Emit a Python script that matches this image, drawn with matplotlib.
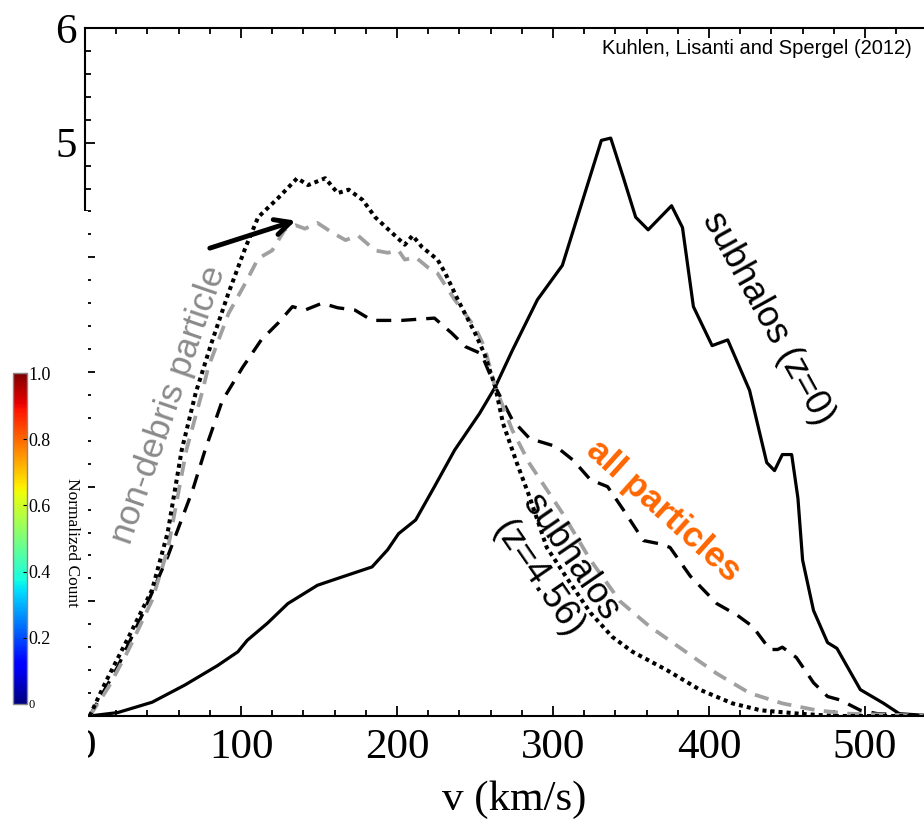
import matplotlib
matplotlib.use("Agg")
import matplotlib.pyplot as plt
import matplotlib.patches as mpatches
from matplotlib.ticker import MultipleLocator
import numpy as np

# --- data (v in km/s, relative counts) ---
solid_v = [3, 21, 43, 64, 85, 98, 104, 117, 130, 149, 162, 184, 194, 201, 212, 224,
           237, 253, 263, 274, 290, 306, 317, 331, 337, 345, 353, 361, 376, 383, 390,
           402, 412, 426, 437, 442, 447, 453, 457, 460, 467, 476, 482, 497, 512, 522, 545]
solid_y = [0, 0.03, 0.12, 0.27, 0.44, 0.56, 0.66, 0.81, 0.98, 1.14, 1.20, 1.30, 1.45,
           1.59, 1.71, 2.0, 2.32, 2.64, 2.87, 3.19, 3.63, 3.93, 4.41, 5.02, 5.04, 4.70,
           4.35, 4.24, 4.45, 4.26, 3.57, 3.23, 3.28, 2.84, 2.21, 2.14, 2.28, 2.28, 1.9,
           1.36, 0.92, 0.64, 0.59, 0.23, 0.11, 0.02, 0]

dot_v = [3, 13, 28, 43, 53, 62, 71, 81, 92, 103, 111, 124, 136, 143, 154, 162, 169,
         178, 186, 205, 210, 216, 226, 231, 239, 250, 256, 263, 268, 277, 285, 296,
         311, 324, 338, 351, 373, 394, 415, 433, 458, 480, 545]
dot_y = [0, 0.29, 0.69, 1.1, 1.6, 2.32, 2.82, 3.25, 3.69, 4.09, 4.35, 4.52, 4.69, 4.63,
         4.69, 4.56, 4.59, 4.50, 4.35, 4.11, 4.19, 4.09, 3.98, 3.86, 3.63, 3.34, 3.16,
         2.87, 2.55, 2.2, 1.91, 1.47, 1.16, 0.90, 0.69, 0.56, 0.40, 0.23, 0.11, 0.05,
         0.02, 0, 0]

gray_v = [3, 15, 28, 43, 53, 65, 75, 79, 92, 103, 111, 120, 128, 135, 141, 149, 158,
          167, 175, 186, 194, 201, 205, 212, 220, 226, 237, 250, 256, 263, 274, 285,
          306, 324, 343, 362, 383, 405, 426, 447, 469, 490, 545]
gray_y = [0, 0.25, 0.58, 1.01, 1.45, 2.32, 2.82, 3.04, 3.51, 3.78, 3.99, 4.06, 4.24,
          4.28, 4.25, 4.30, 4.22, 4.15, 4.19, 4.06, 4.04, 4.06, 3.98, 4.0, 3.91, 3.86,
          3.63, 3.39, 3.22, 2.87, 2.49, 2.2, 1.77, 1.36, 1.0, 0.78, 0.58, 0.37, 0.2,
          0.11, 0.05, 0.02, 0]

dash_v = [3, 21, 38, 53, 69, 77, 88, 101, 113, 124, 133, 141, 152, 162, 173, 184, 203,
          224, 235, 244, 254, 263, 274, 285, 302, 313, 324, 335, 345, 358, 369, 375,
          388, 405, 418, 428, 439, 444, 447, 456, 467, 476, 484, 497, 508, 545]
dash_y = [0, 0.43, 0.92, 1.39, 1.97, 2.32, 2.75, 3.04, 3.28, 3.43, 3.57, 3.54, 3.60,
          3.56, 3.54, 3.45, 3.45, 3.47, 3.34, 3.22, 3.16, 2.87, 2.58, 2.42, 2.35, 2.23,
          2.06, 2.0, 1.80, 1.53, 1.50, 1.47, 1.22, 0.98, 0.88, 0.78, 0.58, 0.58, 0.60,
          0.51, 0.29, 0.17, 0.14, 0.05, 0.02, 0]

x_ticks = [0, 100, 200, 300, 400, 500]
y_ticks = [0, 1, 2, 3, 4, 5, 6]
y_labels = ["", "", "", "", "", "5", "6"]   # lower ones are hidden in the original
cbar_ticks = [0, 0.2, 0.4, 0.6, 0.8, 1.0]
cbar_labels = ["0", "0.2", "0.4", "0.6", "0.8", "1.0"]

SERIF = "Liberation Serif"
SANS = "Liberation Sans"

W, H = 924, 822
fig = plt.figure(figsize=(W / 100, H / 100), dpi=100)

# main axes: left spine at x=85 px, top at y=28 px, bottom at y=716 px
ax = fig.add_axes([85 / W, 1 - 716 / H, 550 * 1.56 / W, (716 - 28) / H])
ax.set_xlim(0, 550)
ax.set_ylim(0, 6)

ax.plot(solid_v, solid_y, color="black", lw=2.3)
ax.plot(dash_v, dash_y, color="black", lw=2.4, linestyle=(0, (4.5, 3.0)))
ax.plot(gray_v, gray_y, color="#a0a0a0", lw=2.7, linestyle=(0, (3.8, 2.5)))
ax.plot(dot_v, dot_y, color="black", lw=2.9, linestyle=(0, (1, 1.0)))

ax.set_xticks(x_ticks)
ax.set_yticks(y_ticks)
ax.set_yticklabels(y_labels)
ax.xaxis.set_minor_locator(MultipleLocator(20))
ax.yaxis.set_minor_locator(MultipleLocator(0.2))
ax.tick_params(which="both", direction="in", top=True, right=True, width=1.3,
               labelsize=31)
ax.tick_params(which="major", length=7)
ax.tick_params(which="minor", length=4)
ax.tick_params(axis="x", pad=9)
ax.tick_params(axis="y", pad=6)
for lab in ax.get_xticklabels() + ax.get_yticklabels():
    lab.set_fontfamily(SERIF)
for sp in ax.spines.values():
    sp.set_linewidth(1.5)

# the ticks below the visible spine look faded in the original
for t in ax.yaxis.get_major_ticks():
    if t.get_loc() < 4.4:
        t.tick1line.set_color("#444444")
for t in ax.yaxis.get_minor_ticks():
    if t.get_loc() < 4.4:
        t.tick1line.set_color("#bbbbbb")

ax.set_xlabel("v (km/s)", fontsize=31, fontfamily=SERIF, labelpad=10)

# labels on the curves
ax.text(54, 2.71, "non-debris particle", rotation=71, color="#8a8a8a",
        fontsize=25.5, fontfamily=SANS, ha="center", va="center",
        rotation_mode="anchor")
ax.text(438, 3.47, "subhalos (z=0)", rotation=-61, color="black",
        fontsize=26, fontfamily=SANS, ha="center", va="center",
        rotation_mode="anchor")
ax.text(301, 1.29, "subhalos\n(z=4.56)", rotation=-55.5, color="black",
        fontsize=26, fontfamily=SANS, ha="center", va="center",
        rotation_mode="anchor", multialignment="center", linespacing=1.15)
ax.text(371, 1.79, "all particles", rotation=-42, color="#ff6600",
        fontsize=25.5, fontweight="bold", fontfamily=SANS, ha="center",
        va="center", rotation_mode="anchor")
ax.annotate("", xy=(135, 4.32), xytext=(80, 4.08),
            arrowprops=dict(arrowstyle="->", color="black", lw=3.5,
                            mutation_scale=28, shrinkA=0, shrinkB=0))

fig.text(912 / W, 1 - 48 / H, "Kuhlen, Lisanti and Spergel (2012)",
         ha="right", va="center", fontsize=14.5, fontfamily=SANS)

# white patch over the lower part of the left axis (pasted colorbar area)
cover = mpatches.Rectangle((0, 1 - 770 / H), 87.5 / W, (770 - 211) / H,
                           transform=fig.transFigure, facecolor="white",
                           edgecolor="none", zorder=5)
fig.patches.append(cover)

# colorbar
cax = fig.add_axes([13 / W, 1 - 704 / H, 14 / W, (704 - 373) / H])
cax.set_zorder(10)
sm = plt.cm.ScalarMappable(cmap="jet", norm=plt.Normalize(0, 1))
cb = fig.colorbar(sm, cax=cax, ticks=cbar_ticks)
cb.ax.set_yticklabels(cbar_labels)
cb.outline.set_edgecolor("#888888")
cb.outline.set_linewidth(1)
cax.tick_params(direction="in", length=3, width=0.8, pad=1, labelsize=13)
for lab in cax.get_yticklabels():
    lab.set_fontfamily(SERIF)
cax.get_yticklabels()[0].set_fontsize(9)
fig.text(72 / W, 1 - 542 / H, "Normalized Count", rotation=-90, ha="center",
         va="center", fontsize=12.5, fontfamily=SERIF, zorder=11)

fig.savefig("out.png", dpi=100)
